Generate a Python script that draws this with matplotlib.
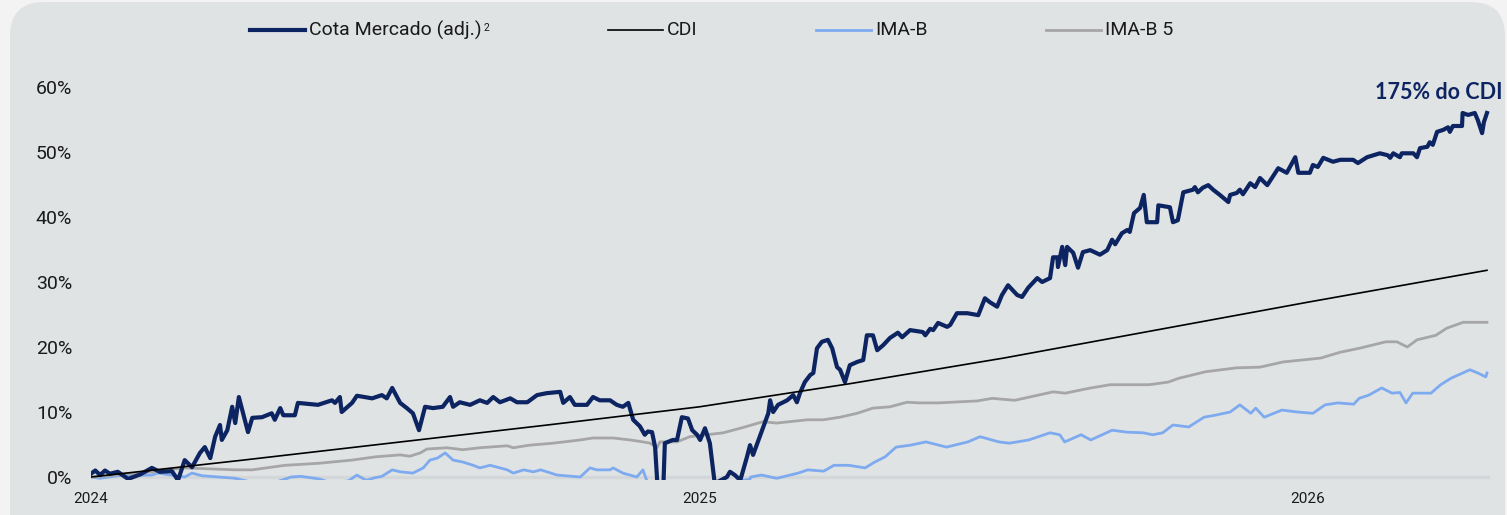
import numpy as np
import matplotlib
matplotlib.use("Agg")
import matplotlib.pyplot as plt
from matplotlib.patches import FancyBboxPatch
from matplotlib.lines import Line2D
from matplotlib.transforms import IdentityTransform

plt.rcParams['font.family'] = ['Roboto', 'DejaVu Sans']

# ---- data (x = years after 2024-01-01, y = accumulated return in %) ----
cota_t = [0.000, 0.007, 0.015, 0.023, 0.031, 0.044, 0.061, 0.081, 0.100, 0.113, 0.133, 0.143,
          0.154, 0.166, 0.179, 0.187, 0.196, 0.204, 0.212, 0.215, 0.224, 0.232, 0.237, 0.243,
          0.250, 0.258, 0.265, 0.281, 0.297, 0.302, 0.311, 0.316, 0.335, 0.340, 0.373, 0.396,
          0.401, 0.409, 0.412, 0.429, 0.437, 0.462, 0.478, 0.486, 0.495, 0.508, 0.519, 0.529,
          0.539, 0.549, 0.562, 0.578, 0.590, 0.595, 0.606, 0.623, 0.639, 0.651, 0.661, 0.672,
          0.689, 0.700, 0.717, 0.733, 0.749, 0.771, 0.776, 0.787, 0.795, 0.815, 0.825, 0.836,
          0.853, 0.864, 0.874, 0.883, 0.891, 0.902, 0.910, 0.915, 0.922, 0.927, 0.932, 0.940,
          0.943, 0.956, 0.963, 0.971, 0.981, 0.988, 0.996, 1.001, 1.009, 1.017, 1.025, 1.045,
          1.050, 1.058, 1.067, 1.078, 1.083, 1.088, 1.099, 1.104, 1.113, 1.116, 1.121, 1.129,
          1.144, 1.154, 1.160, 1.165, 1.173, 1.182, 1.187, 1.193, 1.201, 1.211, 1.218, 1.226,
          1.231, 1.239, 1.247, 1.259, 1.269, 1.275, 1.285, 1.292, 1.302, 1.313, 1.326, 1.333,
          1.346, 1.367, 1.371, 1.379, 1.384, 1.392, 1.407, 1.412, 1.423, 1.440, 1.458, 1.469,
          1.477, 1.489, 1.497, 1.507, 1.522, 1.530, 1.540, 1.555, 1.563, 1.576, 1.581, 1.588,
          1.589, 1.596, 1.601, 1.604, 1.614, 1.622, 1.630, 1.642, 1.658, 1.670, 1.678, 1.683,
          1.694, 1.703, 1.707, 1.714, 1.724, 1.730, 1.735, 1.752, 1.754, 1.773, 1.778, 1.786,
          1.795, 1.811, 1.814, 1.819, 1.827, 1.836, 1.844, 1.855, 1.869, 1.872, 1.883, 1.888,
          1.893, 1.905, 1.913, 1.921, 1.933, 1.951, 1.965, 1.979, 1.984, 2.003, 2.008, 2.016,
          2.025, 2.041, 2.053, 2.074, 2.082, 2.097, 2.118, 2.131, 2.135, 2.140, 2.151, 2.154,
          2.173, 2.179, 2.184, 2.196, 2.200, 2.205, 2.212, 2.222, 2.230, 2.233, 2.238, 2.253,
          2.254, 2.263, 2.274, 2.279, 2.286, 2.289, 2.294]
cota_v = [0.5, 1.0, 0.3, 1.0, 0.5, 0.8, -0.3, 0.4, 1.4, 0.8, 0.9, -0.5,
          2.6, 1.5, 3.7, 4.6, 2.9, 6.2, 8.0, 5.7, 7.2, 10.8, 8.3, 12.3,
          9.8, 6.9, 9.1, 9.2, 9.8, 8.8, 10.6, 9.5, 9.5, 11.4, 11.1, 11.8,
          11.4, 12.3, 10.0, 11.4, 12.5, 12.1, 12.6, 12.1, 13.7, 11.4, 10.6, 9.8,
          7.2, 10.8, 10.6, 10.8, 12.3, 10.8, 11.5, 11.1, 11.8, 11.4, 12.3, 11.5,
          12.1, 11.5, 11.5, 12.6, 12.9, 13.1, 11.4, 12.3, 11.1, 11.1, 12.3, 11.8,
          11.8, 11.1, 10.8, 11.4, 8.8, 7.8, 6.5, 7.0, 6.9, 4.6, -3.0, -3.0,
          5.2, 5.7, 5.7, 9.2, 9.0, 7.2, 6.5, 5.7, 7.5, 5.2, -1.0, 0.0,
          0.8, 0.3, -0.5, 3.1, 4.9, 3.4, 6.2, 7.5, 9.8, 11.8, 10.0, 11.1,
          11.8, 12.6, 11.5, 12.9, 14.6, 15.7, 16.0, 19.8, 20.8, 21.1, 19.8, 16.9,
          16.5, 14.6, 17.2, 17.7, 18.0, 21.8, 21.8, 19.5, 20.3, 21.4, 22.2, 21.5,
          22.6, 22.3, 21.8, 22.8, 22.6, 23.7, 23.1, 23.4, 25.2, 25.2, 24.9, 27.5,
          26.9, 26.2, 28.0, 29.5, 28.0, 27.7, 29.1, 30.6, 30.0, 30.6, 33.8, 33.8,
          32.3, 35.4, 32.6, 35.4, 34.5, 32.2, 34.6, 34.9, 34.2, 34.9, 36.5, 35.8,
          37.5, 38.0, 37.7, 40.6, 41.4, 43.4, 39.2, 39.2, 41.8, 41.5, 39.2, 39.5,
          43.8, 44.2, 44.6, 43.8, 44.5, 44.9, 44.2, 43.4, 42.3, 43.4, 43.7, 44.2,
          43.5, 45.2, 44.6, 46.0, 44.9, 47.5, 46.8, 49.2, 46.8, 46.8, 48.0, 47.7,
          49.1, 48.5, 48.8, 48.8, 48.3, 49.2, 49.8, 49.5, 49.1, 49.8, 49.2, 49.8,
          49.8, 49.2, 50.6, 50.8, 51.5, 51.1, 53.1, 53.4, 53.8, 53.1, 54.0, 54.0,
          56.0, 55.7, 56.0, 54.9, 52.9, 54.6, 56.0]

cdi_t = [0.0, 0.25, 0.5, 0.75, 1.0, 1.25, 1.5, 1.75, 2.0, 2.294]
cdi_v = [0.0, 2.6, 5.3, 8.0, 10.8, 14.4, 18.3, 22.6, 26.9, 31.8]

imab_t = [0.002, 0.015, 0.044, 0.100, 0.110, 0.154, 0.166, 0.182, 0.237, 0.264, 0.300, 0.329,
          0.345, 0.375, 0.395, 0.423, 0.437, 0.452, 0.467, 0.478, 0.495, 0.508, 0.529, 0.546,
          0.557, 0.569, 0.582, 0.595, 0.611, 0.628, 0.639, 0.656, 0.672, 0.684, 0.694, 0.711,
          0.727, 0.739, 0.749, 0.766, 0.804, 0.820, 0.831, 0.853, 0.858, 0.874, 0.897, 0.907,
          0.915, 0.950, 1.000, 1.050, 1.083, 1.084, 1.102, 1.127, 1.162, 1.178, 1.204, 1.221,
          1.245, 1.272, 1.288, 1.305, 1.323, 1.347, 1.372, 1.406, 1.441, 1.461, 1.492, 1.509,
          1.541, 1.576, 1.592, 1.600, 1.627, 1.643, 1.678, 1.702, 1.729, 1.745, 1.761, 1.778,
          1.804, 1.829, 1.847, 1.872, 1.888, 1.906, 1.914, 1.928, 1.957, 1.982, 2.008, 2.028,
          2.049, 2.075, 2.084, 2.100, 2.121, 2.138, 2.151, 2.161, 2.172, 2.202, 2.218, 2.235,
          2.266, 2.279, 2.292, 2.294]
imab_v = [0.0, -0.2, 0.2, 0.3, 0.6, 0.0, 0.6, 0.2, -0.2, -0.8, -0.9, 0.0,
          0.1, -0.3, -0.9, -0.6, 0.3, -0.5, -0.1, 0.1, 1.1, 0.8, 0.6, 1.4,
          2.6, 2.9, 3.7, 2.6, 2.3, 1.8, 1.4, 1.8, 1.4, 1.1, 0.6, 1.1,
          0.8, 1.1, 0.8, 0.3, 0.0, 1.4, 1.1, 1.1, 1.4, 0.6, 0.0, 1.1,
          -1.0, -2.0, -1.5, -1.0, -0.3, 0.0, 0.3, -0.2, 0.6, 1.1, 0.9, 1.8,
          1.8, 1.4, 2.3, 3.1, 4.6, 4.9, 5.4, 4.6, 5.4, 6.2, 5.4, 5.2,
          5.7, 6.8, 6.5, 5.4, 6.5, 5.7, 7.2, 6.9, 6.8, 6.5, 6.8, 8.0,
          7.7, 9.2, 9.5, 10.0, 11.1, 9.8, 10.6, 9.2, 10.3, 10.0, 9.8, 11.1,
          11.4, 11.2, 12.1, 12.6, 13.7, 12.9, 13.0, 11.4, 12.9, 12.9, 14.2, 15.2,
          16.5, 16.0, 15.4, 16.0]

imab5_t = [0.002, 0.100, 0.154, 0.237, 0.265, 0.319, 0.373, 0.429, 0.467, 0.508, 0.524, 0.541,
           0.552, 0.585, 0.611, 0.639, 0.684, 0.694, 0.721, 0.759, 0.804, 0.825, 0.858, 0.886,
           0.907, 0.919, 0.930, 0.935, 0.963, 0.984, 1.012, 1.039, 1.067, 1.104, 1.127, 1.177,
           1.203, 1.231, 1.259, 1.285, 1.313, 1.341, 1.362, 1.392, 1.456, 1.481, 1.518, 1.581,
           1.601, 1.643, 1.675, 1.739, 1.770, 1.788, 1.832, 1.883, 1.921, 1.959, 2.021, 2.053,
           2.084, 2.128, 2.146, 2.163, 2.179, 2.210, 2.228, 2.255, 2.294]
imab5_v = [0.0, 0.8, 1.4, 1.1, 1.1, 1.8, 2.1, 2.6, 3.1, 3.4, 3.2, 3.7,
           4.3, 4.5, 4.2, 4.5, 4.8, 4.5, 4.9, 5.2, 5.7, 6.0, 6.0, 5.7,
           5.4, 5.2, 4.5, 5.4, 5.4, 6.2, 6.5, 6.8, 7.5, 8.5, 8.3, 8.8,
           8.8, 9.2, 9.8, 10.6, 10.8, 11.5, 11.4, 11.4, 11.7, 12.1, 11.8, 13.1,
           12.9, 13.7, 14.2, 14.2, 14.6, 15.2, 16.2, 16.8, 16.9, 17.7, 18.3, 19.2,
           19.8, 20.8, 20.8, 20.0, 21.1, 21.8, 22.9, 23.8, 23.8]

series_names = ['Cota Mercado (adj.)', 'CDI', 'IMA-B', 'IMA-B 5']
series_notes = ['2', '', '', '']
series_colors = ['#0c2461', '#000000', '#7eaaf0', '#a6a6a6']
year_ticks = [2024, 2025, 2026]
pct_ticks = [0, 10, 20, 30, 40, 50, 60]
end_label = '175% do CDI'

# ---- figure ----
W, H = 1507, 515
fig = plt.figure(figsize=(W / 100, H / 100), dpi=100)
fig.patch.set_facecolor('#f3f3f3')
panel = FancyBboxPatch((10, -60), 1495, H - 2 + 60, boxstyle='round,pad=0,rounding_size=34',
                       transform=IdentityTransform(), facecolor='#e0e3e4', edgecolor='none',
                       zorder=0)
fig.add_artist(panel)

ax = fig.add_axes([91 / W, (H - 479.6) / H, (1490 - 91) / W, 405.6 / H])
ax.set_facecolor('none')
ax.set_xlim(2024.0, 2026.299)
ax.set_ylim(-0.4, 62)

ax.axhline(0, color='#d4d7d9', lw=2.5, zorder=1)

widths = [3.0, 1.2, 2.0, 2.0]
zs = [3, 4, 2, 2]
data = [(cota_t, cota_v), (cdi_t, cdi_v), (imab_t, imab_v), (imab5_t, imab5_v)]
for (t, v), c, lw, z in zip(data, series_colors, widths, zs):
    ax.plot(2024 + np.array(t), v, color=c, lw=lw, zorder=z, solid_joinstyle='round')

for s in ax.spines.values():
    s.set_visible(False)
ax.set_yticks(pct_ticks)
ax.set_yticklabels([f'{p}%' for p in pct_ticks])
ax.set_xticks(year_ticks)
ax.set_xticklabels([str(y) for y in year_ticks])
ax.tick_params(axis='y', length=0, pad=13.5, labelsize=14, labelcolor='#1a1a1a')
ax.tick_params(axis='x', length=0, pad=9, labelsize=11, labelcolor='#1a1a1a')

ax.annotate(end_label, xy=(2024 + cota_t[-1], cota_v[-1]), xytext=(11.5, 15),
            textcoords='offset points', ha='right', va='center', fontsize=15.5,
            fontweight='bold', family=['Lato', 'DejaVu Sans'], color=series_colors[0],
            annotation_clip=False)

# ---- legend (hand placed, as in the original) ----
leg_x = [250, 608, 816, 1046]
leg_y = (H - 30) / H
renderer = fig.canvas.get_renderer()
for x0, name, note, c, lw in zip(leg_x, series_names, series_notes, series_colors, widths):
    fig.add_artist(Line2D([x0 / W, (x0 + 55) / W], [leg_y, leg_y], color=c, lw=lw,
                          transform=fig.transFigure))
    txt = fig.text((x0 + 59) / W, leg_y, name, fontsize=14, va='center', ha='left',
                   color='#1a1a1a')
    if note:
        bb = txt.get_window_extent(renderer)
        fig.text((bb.x1 + 2) / W, (bb.y1 - 3) / H, note, fontsize=7.5, va='top', ha='left',
                 color='#1a1a1a')

fig.savefig('out.png', dpi=100, facecolor=fig.get_facecolor())
